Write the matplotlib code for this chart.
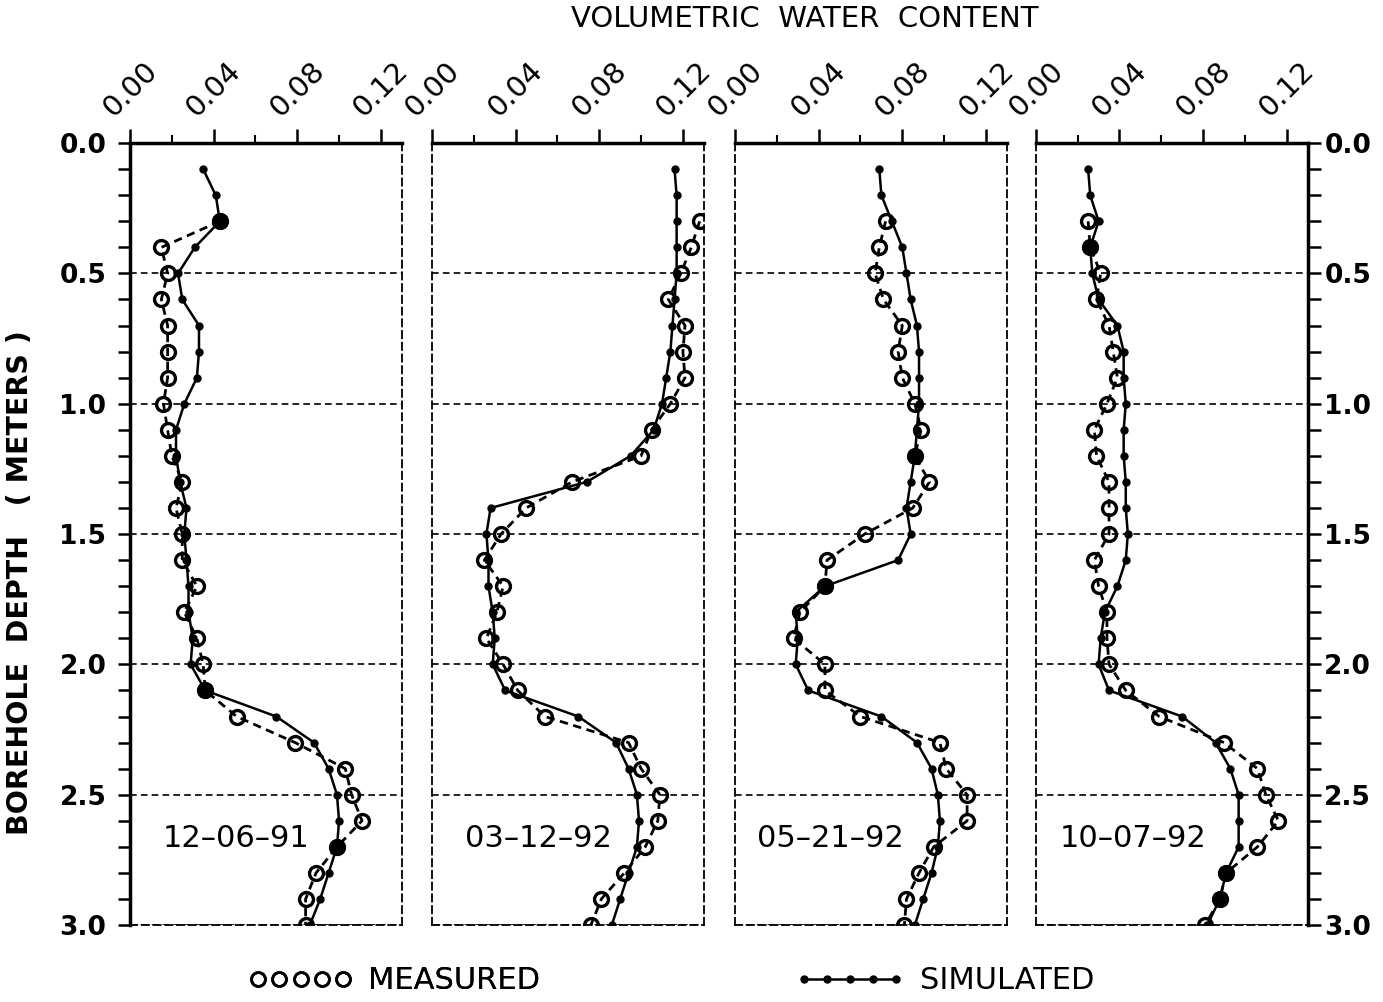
import matplotlib
matplotlib.use('Agg')

import matplotlib.pyplot as plt
from matplotlib.lines import Line2D
from matplotlib.ticker import MultipleLocator, FormatStrFormatter

# depth below surface (m)
sim_depth = [0.1, 0.2, 0.3, 0.4, 0.5, 0.6, 0.7, 0.8, 0.9, 1.0,
             1.1, 1.2, 1.3, 1.4, 1.5, 1.6, 1.7, 1.8, 1.9, 2.0,
             2.1, 2.2, 2.3, 2.4, 2.5, 2.6, 2.7, 2.8, 2.9, 3.0]
meas_depth = [0.3, 0.4, 0.5, 0.6, 0.7, 0.8, 0.9, 1.0,
              1.1, 1.2, 1.3, 1.4, 1.5, 1.6, 1.7, 1.8, 1.9, 2.0,
              2.1, 2.2, 2.3, 2.4, 2.5, 2.6, 2.7, 2.8, 2.9, 3.0]

dates = ["12\u201306\u201391", "03\u201312\u201392", "05\u201321\u201392", "10\u201307\u201392"]

# simulated volumetric water content
sim_1 = [0.035, 0.041, 0.043, 0.031, 0.023, 0.025, 0.033, 0.033, 0.032, 0.026,
         0.022, 0.022, 0.024, 0.027, 0.026, 0.027, 0.028, 0.028, 0.030, 0.029,
         0.036, 0.070, 0.088, 0.095, 0.099, 0.100, 0.099, 0.095, 0.091, 0.086]
sim_2 = [0.116, 0.117, 0.117, 0.117, 0.117, 0.116, 0.115, 0.114, 0.112, 0.110,
         0.106, 0.095, 0.074, 0.028, 0.026, 0.027, 0.027, 0.029, 0.030, 0.029,
         0.035, 0.070, 0.088, 0.094, 0.098, 0.099, 0.098, 0.094, 0.090, 0.086]
sim_3 = [0.069, 0.070, 0.075, 0.080, 0.082, 0.084, 0.087, 0.088, 0.088, 0.088,
         0.087, 0.086, 0.084, 0.082, 0.084, 0.078, 0.043, 0.029, 0.030, 0.029,
         0.035, 0.070, 0.087, 0.094, 0.097, 0.098, 0.097, 0.094, 0.090, 0.086]
sim_4 = [0.025, 0.026, 0.030, 0.026, 0.027, 0.030, 0.039, 0.042, 0.042, 0.043,
         0.042, 0.042, 0.043, 0.043, 0.044, 0.043, 0.039, 0.033, 0.031, 0.030,
         0.035, 0.070, 0.086, 0.093, 0.097, 0.097, 0.097, 0.091, 0.088, 0.082]

# measured volumetric water content
meas_1 = [0.043, 0.015, 0.018, 0.015, 0.018, 0.018, 0.018, 0.016,
          0.018, 0.020, 0.025, 0.022, 0.025, 0.025, 0.032, 0.026, 0.032, 0.035,
          0.036, 0.051, 0.079, 0.103, 0.106, 0.111, 0.099, 0.089, 0.084, 0.084]
meas_2 = [0.128, 0.124, 0.119, 0.113, 0.121, 0.120, 0.121, 0.114,
          0.105, 0.100, 0.067, 0.045, 0.033, 0.025, 0.034, 0.031, 0.026, 0.034,
          0.041, 0.054, 0.094, 0.100, 0.109, 0.108, 0.102, 0.092, 0.081, 0.076]
meas_3 = [0.072, 0.069, 0.067, 0.071, 0.080, 0.078, 0.080, 0.086,
          0.089, 0.086, 0.093, 0.085, 0.062, 0.044, 0.043, 0.031, 0.028, 0.043,
          0.043, 0.060, 0.098, 0.101, 0.111, 0.111, 0.095, 0.088, 0.082, 0.081]
meas_4 = [0.025, 0.026, 0.031, 0.029, 0.035, 0.037, 0.039, 0.034,
          0.028, 0.029, 0.035, 0.035, 0.035, 0.028, 0.030, 0.034, 0.034, 0.035,
          0.043, 0.059, 0.090, 0.106, 0.110, 0.116, 0.106, 0.091, 0.088, 0.081]

sims = [sim_1, sim_2, sim_3, sim_4]
meas = [meas_1, meas_2, meas_3, meas_4]

xticks = [0.00, 0.04, 0.08, 0.12]

# panel left edges / widths in figure fraction
lefts = [0.094, 0.3124, 0.5315, 0.749]
width = 0.1965
bottom = 0.0768
height = 0.7804
date_x = [0.39, 0.39, 0.35, 0.357]

fig = plt.figure(figsize=(13.83, 10.02), dpi=100)

for i in range(4):
	ax = fig.add_axes([lefts[i], bottom, width, height])

	# measured: open circles on a dashed line, simulated: dots on a solid line
	ax.plot(meas[i], meas_depth, color='black', lw=2.0, ls=(0, (3, 2)),
	        marker='o', ms=10, mfc='none', mec='black', mew=2.4, zorder=3)
	ax.plot(sims[i], sim_depth, color='black', lw=1.8, ls='-',
	        marker='o', ms=5, mfc='black', mec='black', zorder=4)

	# where both curves sit on the same value the point prints as a solid blob
	same_x = []
	same_y = []
	for d, m in zip(meas_depth, meas[i]):
		s = sims[i][sim_depth.index(d)]
		if abs(m - s) <= 0.0005:
			same_x.append(m)
			same_y.append(d)
	ax.plot(same_x, same_y, ls='none', marker='o', ms=11, color='black', zorder=5)

	ax.set_xlim(0, 0.13)
	ax.set_ylim(3.0, 0.0)

	# horizontal dashed grid every 0.5 m
	ax.yaxis.set_major_locator(MultipleLocator(0.5))
	ax.yaxis.set_minor_locator(MultipleLocator(0.1))
	ax.grid(axis='y', which='major', color='black', lw=1.2, ls=(0, (4, 2.5)))

	# x axis on top with rotated labels
	ax.xaxis.tick_top()
	ax.set_xticks(xticks)
	ax.xaxis.set_minor_locator(MultipleLocator(0.02))
	ax.xaxis.set_major_formatter(FormatStrFormatter('%.2f'))
	ax.tick_params(axis='x', which='major', length=10, width=1.8, direction='out',
	               labelsize=21, labelrotation=45, pad=5)
	ax.tick_params(axis='x', which='minor', length=6, width=1.5, direction='out')

	for side in ['left', 'right', 'bottom']:
		ax.spines[side].set_linestyle((0, (4, 2.5)))
		ax.spines[side].set_linewidth(1.3)
	ax.spines['top'].set_linewidth(2.5)

	if i == 0:
		ax.spines['left'].set_linestyle('-')
		ax.spines['left'].set_linewidth(2.5)
		ax.yaxis.tick_left()
		ax.yaxis.set_major_formatter(FormatStrFormatter('%.1f'))
		ax.tick_params(axis='y', which='both', length=9, width=1.8, direction='out',
		               labelsize=19, pad=8)
		for lab in ax.get_yticklabels():
			lab.set_fontweight('bold')
	elif i == 3:
		ax.spines['right'].set_linestyle('-')
		ax.spines['right'].set_linewidth(2.5)
		ax.yaxis.tick_right()
		ax.yaxis.set_major_formatter(FormatStrFormatter('%.1f'))
		ax.tick_params(axis='y', which='both', length=9, width=1.8, direction='out',
		               labelsize=19, pad=3)
		for lab in ax.get_yticklabels():
			lab.set_fontweight('bold')
	else:
		ax.tick_params(axis='y', which='both', left=False, right=False,
		               labelleft=False, labelright=False)

	ax.text(date_x[i], 0.111, dates[i], transform=ax.transAxes,
	        ha='center', va='center', fontsize=22)

fig.text(0.582, 0.981, "VOLUMETRIC  WATER  CONTENT", ha='center', va='center',
         fontsize=21)
fig.text(0.0145, 0.419, "BOREHOLE  DEPTH   ( METERS )", rotation=90,
         ha='center', va='center', fontsize=20.5, fontweight='bold')

# legend at the bottom, one entry each so the samples can differ in length
h_meas = Line2D([], [], color='black', ls='none', marker='o', ms=10,
                mfc='none', mec='black', mew=2.0)
h_sim = Line2D([], [], color='black', ls='-', lw=1.8, marker='o', ms=5,
               mfc='black', mec='black')
leg1 = fig.legend([h_meas], ["MEASURED"], loc='center',
                  bbox_to_anchor=(0.285, 0.021), frameon=False, numpoints=5,
                  handlelength=3.4, handletextpad=0.5, fontsize=22)
fig.add_artist(leg1)
fig.legend([h_sim], ["SIMULATED"], loc='center',
           bbox_to_anchor=(0.683, 0.021), frameon=False, numpoints=5,
           handlelength=3.6, handletextpad=0.5, fontsize=22)

plt.savefig('out.png', dpi=100)
